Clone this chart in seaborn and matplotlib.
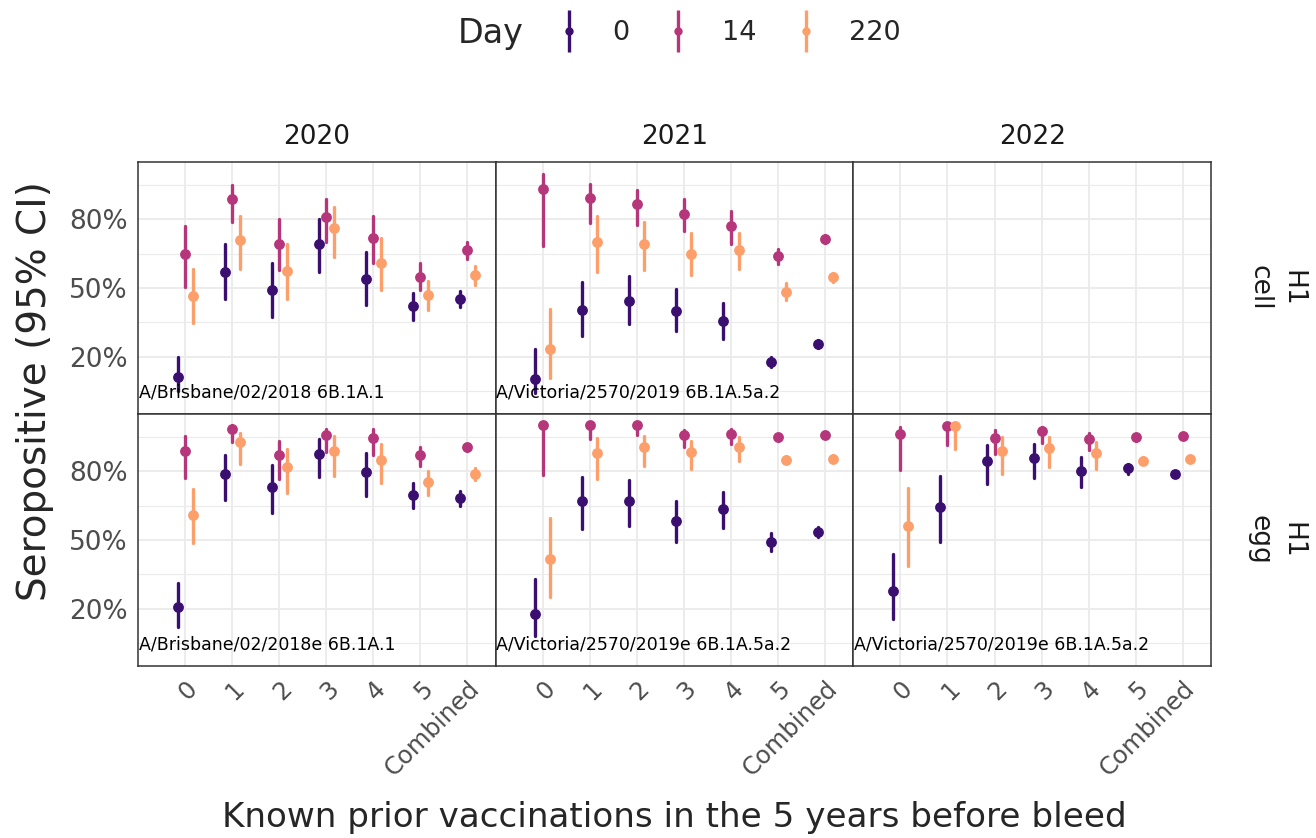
import numpy as np
import pandas as pd
import matplotlib
matplotlib.use("Agg")
import matplotlib.pyplot as plt
import matplotlib.transforms as mtransforms
from matplotlib.lines import Line2D
from matplotlib.legend_handler import HandlerTuple
import seaborn as sns

sns.set_style("white")
plt.rcParams["font.family"] = ["DejaVu Sans"]

# ---------------------------------------------------------------------------
# Categories and groups
# ---------------------------------------------------------------------------
categories = ["0", "1", "2", "3", "4", "5", "Combined"]
days = ["0", "14", "220"]
years = [2020, 2021, 2022]
substrates = ["cell", "egg"]
day_colors = ["#3B0F70", "#B5367A", "#FC9F6B"]

# Seropositive percentage (estimate, lower and upper 95% CI); one row per day
cell_2020_est = [[11, 57, 49, 69, 54, 42, 45],
                 [65, 89, 69, 81, 72, 55, 66.5],
                 [46.5, 71, 57.5, 76, 61, 47, 55.7]]
cell_2020_lo = [[5, 45, 37.5, 57, 42.5, 36, 41.5],
                [50.5, 79, 58, 70, 61, 49, 62.5],
                [34.5, 58.5, 45, 63.5, 49, 40.5, 51.5]]
cell_2020_hi = [[20, 69, 61, 80, 65.5, 48, 48.5],
                [77, 95, 80, 89, 81.5, 61, 70],
                [58.5, 81.5, 69, 85.5, 72, 53, 59.5]]

cell_2021_est = [[10.3, 40.4, 44.5, 40, 35.4, 17.7, 25.7],
                 [93.3, 89.3, 86.8, 82.5, 77, 64, 71.4],
                 [23.5, 70, 69, 65, 66.5, 48.4, 54.6]]
cell_2021_lo = [[4, 29, 34.3, 31.4, 27.8, 15.5, 24],
                [68.3, 78.4, 77.4, 74.8, 69.4, 60.3, 69.7],
                [10.7, 56.8, 58, 55.7, 58.3, 44.8, 52.5]]
cell_2021_hi = [[23.5, 52.8, 55.2, 49.6, 43.6, 20, 27.4],
                [99.6, 95.5, 92.9, 88.7, 83.6, 67.2, 73],
                [40.7, 81.3, 78.6, 73.8, 74, 52, 56.7]]

egg_2020_est = [[20.6, 78.6, 73.2, 87.7, 79.6, 69.5, 68.5],
                [89, 98.5, 86.9, 95.9, 94.7, 87.2, 90.6],
                [61, 92.7, 81.7, 88.7, 85.1, 75.2, 79]]
egg_2020_lo = [[12.2, 67.4, 61.7, 77.4, 69.2, 63.9, 64.8],
               [77.1, 92.7, 76.7, 88.2, 86.9, 82.5, 88.7],
               [48.6, 83.3, 70.6, 78.1, 74.7, 69.5, 76.1]]
egg_2020_hi = [[31.4, 87.2, 82.9, 94.2, 88, 74.7, 71.3],
               [95.5, 100, 93.4, 98.4, 98.4, 90.8, 92],
               [72.1, 96.9, 89.7, 95.2, 92, 80, 81.2]]

egg_2021_est = [[17.7, 66.8, 66.8, 58.1, 63.4, 49.3, 53.3],
                [100, 100, 100, 95.9, 96.3, 94.9, 95.9],
                [41.5, 88, 90.6, 88.4, 90.6, 85.1, 85.4]]
egg_2021_lo = [[7.9, 54.8, 56.2, 49.3, 55.1, 45.4, 51.2],
               [78.3, 94, 95.9, 90.6, 92, 93.4, 94.6],
               [25.2, 76.8, 82.5, 81, 84.3, 83.6, 83.9]]
egg_2021_hi = [[32.8, 77.4, 76.1, 67, 70.9, 53, 55.8],
               [100, 100, 100, 98, 98.5, 96.4, 97.2],
               [59.4, 94.5, 95.5, 93.4, 94.9, 86.6, 86.9]]

egg_2022_est = [[27.8, 64.6, 84.3, 85.8, 80.3, 81.2, 79],
                [96.2, 99.9, 94.5, 97.6, 94.2, 94.9, 95.2],
                [55.9, 99.9, 88.7, 90.1, 88, 84.6, 85.4]]
egg_2022_lo = [[15.4, 49.3, 74.5, 77.1, 73.1, 78.9, 78],
               [80.4, 91.3, 87.7, 92.3, 89.4, 93.4, 94],
               [38.6, 89.8, 78.6, 81.9, 81, 83.1, 84.2]]
egg_2022_hi = [[43.9, 77.8, 91.3, 91.9, 86.1, 83.2, 80],
               [99.5, 100, 98, 99.5, 96.9, 96.3, 96.4],
               [72.8, 100, 94.9, 94.9, 92.6, 86, 86.6]]

strain_cell_2020 = "A/Brisbane/02/2018 6B.1A.1"
strain_cell_2021 = "A/Victoria/2570/2019 6B.1A.5a.2"
strain_egg_2020 = "A/Brisbane/02/2018e 6B.1A.1"
strain_egg_2021 = "A/Victoria/2570/2019e 6B.1A.5a.2"
strain_egg_2022 = "A/Victoria/2570/2019e 6B.1A.5a.2"

subtype = "H1"
x_title = "Known prior vaccinations in the 5 years before bleed"
y_title = "Seropositive (95% CI)"
y_ticks = [20, 50, 80]
y_minor = [5, 35, 65, 95]

panels = [
    ("cell", 2020, strain_cell_2020, cell_2020_est, cell_2020_lo, cell_2020_hi),
    ("cell", 2021, strain_cell_2021, cell_2021_est, cell_2021_lo, cell_2021_hi),
    ("egg", 2020, strain_egg_2020, egg_2020_est, egg_2020_lo, egg_2020_hi),
    ("egg", 2021, strain_egg_2021, egg_2021_est, egg_2021_lo, egg_2021_hi),
    ("egg", 2022, strain_egg_2022, egg_2022_est, egg_2022_lo, egg_2022_hi),
]

# Long table: each group carries its lower bound, estimate and upper bound,
# so the median is the estimate and min/max span the interval.
rows = []
for sub, yr, _, est, lo, hi in panels:
    for d, day in enumerate(days):
        for c, cat in enumerate(categories):
            for v in (lo[d][c], est[d][c], hi[d][c]):
                rows.append({"substrate": sub, "year": yr, "day": day,
                             "vacc": cat, "pct": v})
df = pd.DataFrame(rows)

g = sns.catplot(
    data=df, kind="point", x="vacc", y="pct", hue="day",
    row="substrate", col="year",
    order=categories, hue_order=days, row_order=substrates, col_order=years,
    palette=day_colors, estimator="median",
    errorbar=lambda v: (np.min(v), np.max(v)),
    dodge=0.32, linestyle="none", markers="o",
    markersize=7.8, markeredgewidth=0, linewidth=2.4,
    err_kws={"linewidth": 2.4},
    legend=False, sharex=True, sharey=True,
    height=3, aspect=1.4, facet_kws={"despine": False},
)

fig = g.figure
fig.set_size_inches(13.16, 8.38)
fig.subplots_adjust(left=0.1049, right=0.9202, top=0.8067, bottom=0.2053,
                    wspace=0, hspace=0)
g.set_titles("")
g.set_axis_labels("", "")

tick_gray = "#4D4D4D"
border = "#333333"
strains = {(p[0], p[1]): p[2] for p in panels}

for i, sub in enumerate(substrates):
    for j, yr in enumerate(years):
        ax = g.axes[i, j]
        ax.set_xlim(-1.0, 6.6)
        ax.set_ylim(-5, 105)
        ax.set_yticks(y_ticks)
        ax.set_yticklabels([f"{t}%" for t in y_ticks])
        ax.set_yticks(y_minor, minor=True)
        ax.set_axisbelow(True)
        ax.grid(True, which="major", color="#EBEBEB", linewidth=1.3)
        ax.grid(True, which="minor", axis="y", color="#EBEBEB", linewidth=0.8)
        for s in ax.spines.values():
            s.set_visible(True)
            s.set_color(border)
            s.set_linewidth(1.1)
        ax.tick_params(which="minor", length=0)
        ax.tick_params(axis="both", which="major", length=4.5, width=1.0,
                       color=border, labelcolor=tick_gray, pad=3)
        ax.tick_params(axis="y", labelsize=19)
        ax.tick_params(axis="x", labelsize=17.5)
        if i < len(substrates) - 1:
            ax.tick_params(axis="x", length=0)
        else:
            for lab in ax.get_xticklabels():
                lab.set_rotation(45)
                lab.set_ha("right")
                lab.set_va("top")
                lab.set_rotation_mode("anchor")
        if j > 0:
            ax.tick_params(axis="y", length=0)
        ax.set_xlabel("")
        ax.set_ylabel("")

        label = strains.get((sub, yr))
        if label:
            trans = mtransforms.blended_transform_factory(ax.transAxes, ax.transData)
            ax.text(0.002, 0.3, label, transform=trans, ha="left", va="bottom",
                    fontsize=12.5, color="black")

# Facet strips
for j, yr in enumerate(years):
    pos = g.axes[0, j].get_position()
    fig.text((pos.x0 + pos.x1) / 2, 0.8365, str(yr), ha="center", va="center",
             fontsize=19, color="#1A1A1A")
for i, sub in enumerate(substrates):
    pos = g.axes[i, -1].get_position()
    fig.text(0.9695, (pos.y0 + pos.y1) / 2, f"{subtype}\n{sub}", rotation=270,
             ha="center", va="center", multialignment="center",
             fontsize=19, color="#1A1A1A", linespacing=1.35)

# Axis titles
fig.text(0.5125, 0.024, x_title, ha="center", va="center", fontsize=24.6)
fig.text(0.0266, 0.533, y_title, ha="center", va="center", rotation=90,
         fontsize=28)

# Legend: interval line with the point drawn on it
handles = []
for col in day_colors:
    bar = Line2D([], [], linestyle="none", marker="|", markersize=30,
                 markeredgewidth=2.4, color=col)
    dot = Line2D([], [], linestyle="none", marker="o", markersize=6,
                 markeredgewidth=0, color=col)
    handles.append((bar, dot))
fig.text(0.348, 0.9606, "Day", ha="left", va="center", fontsize=24)
fig.legend(handles, days, handler_map={tuple: HandlerTuple(ndivide=1)},
           loc="center left", bbox_to_anchor=(0.4218, 0.9606), ncol=3,
           frameon=False, fontsize=19.5, handlelength=1.0, handletextpad=1.1,
           columnspacing=1.32, borderpad=0, borderaxespad=0)

fig.savefig("out.png", dpi=100)
